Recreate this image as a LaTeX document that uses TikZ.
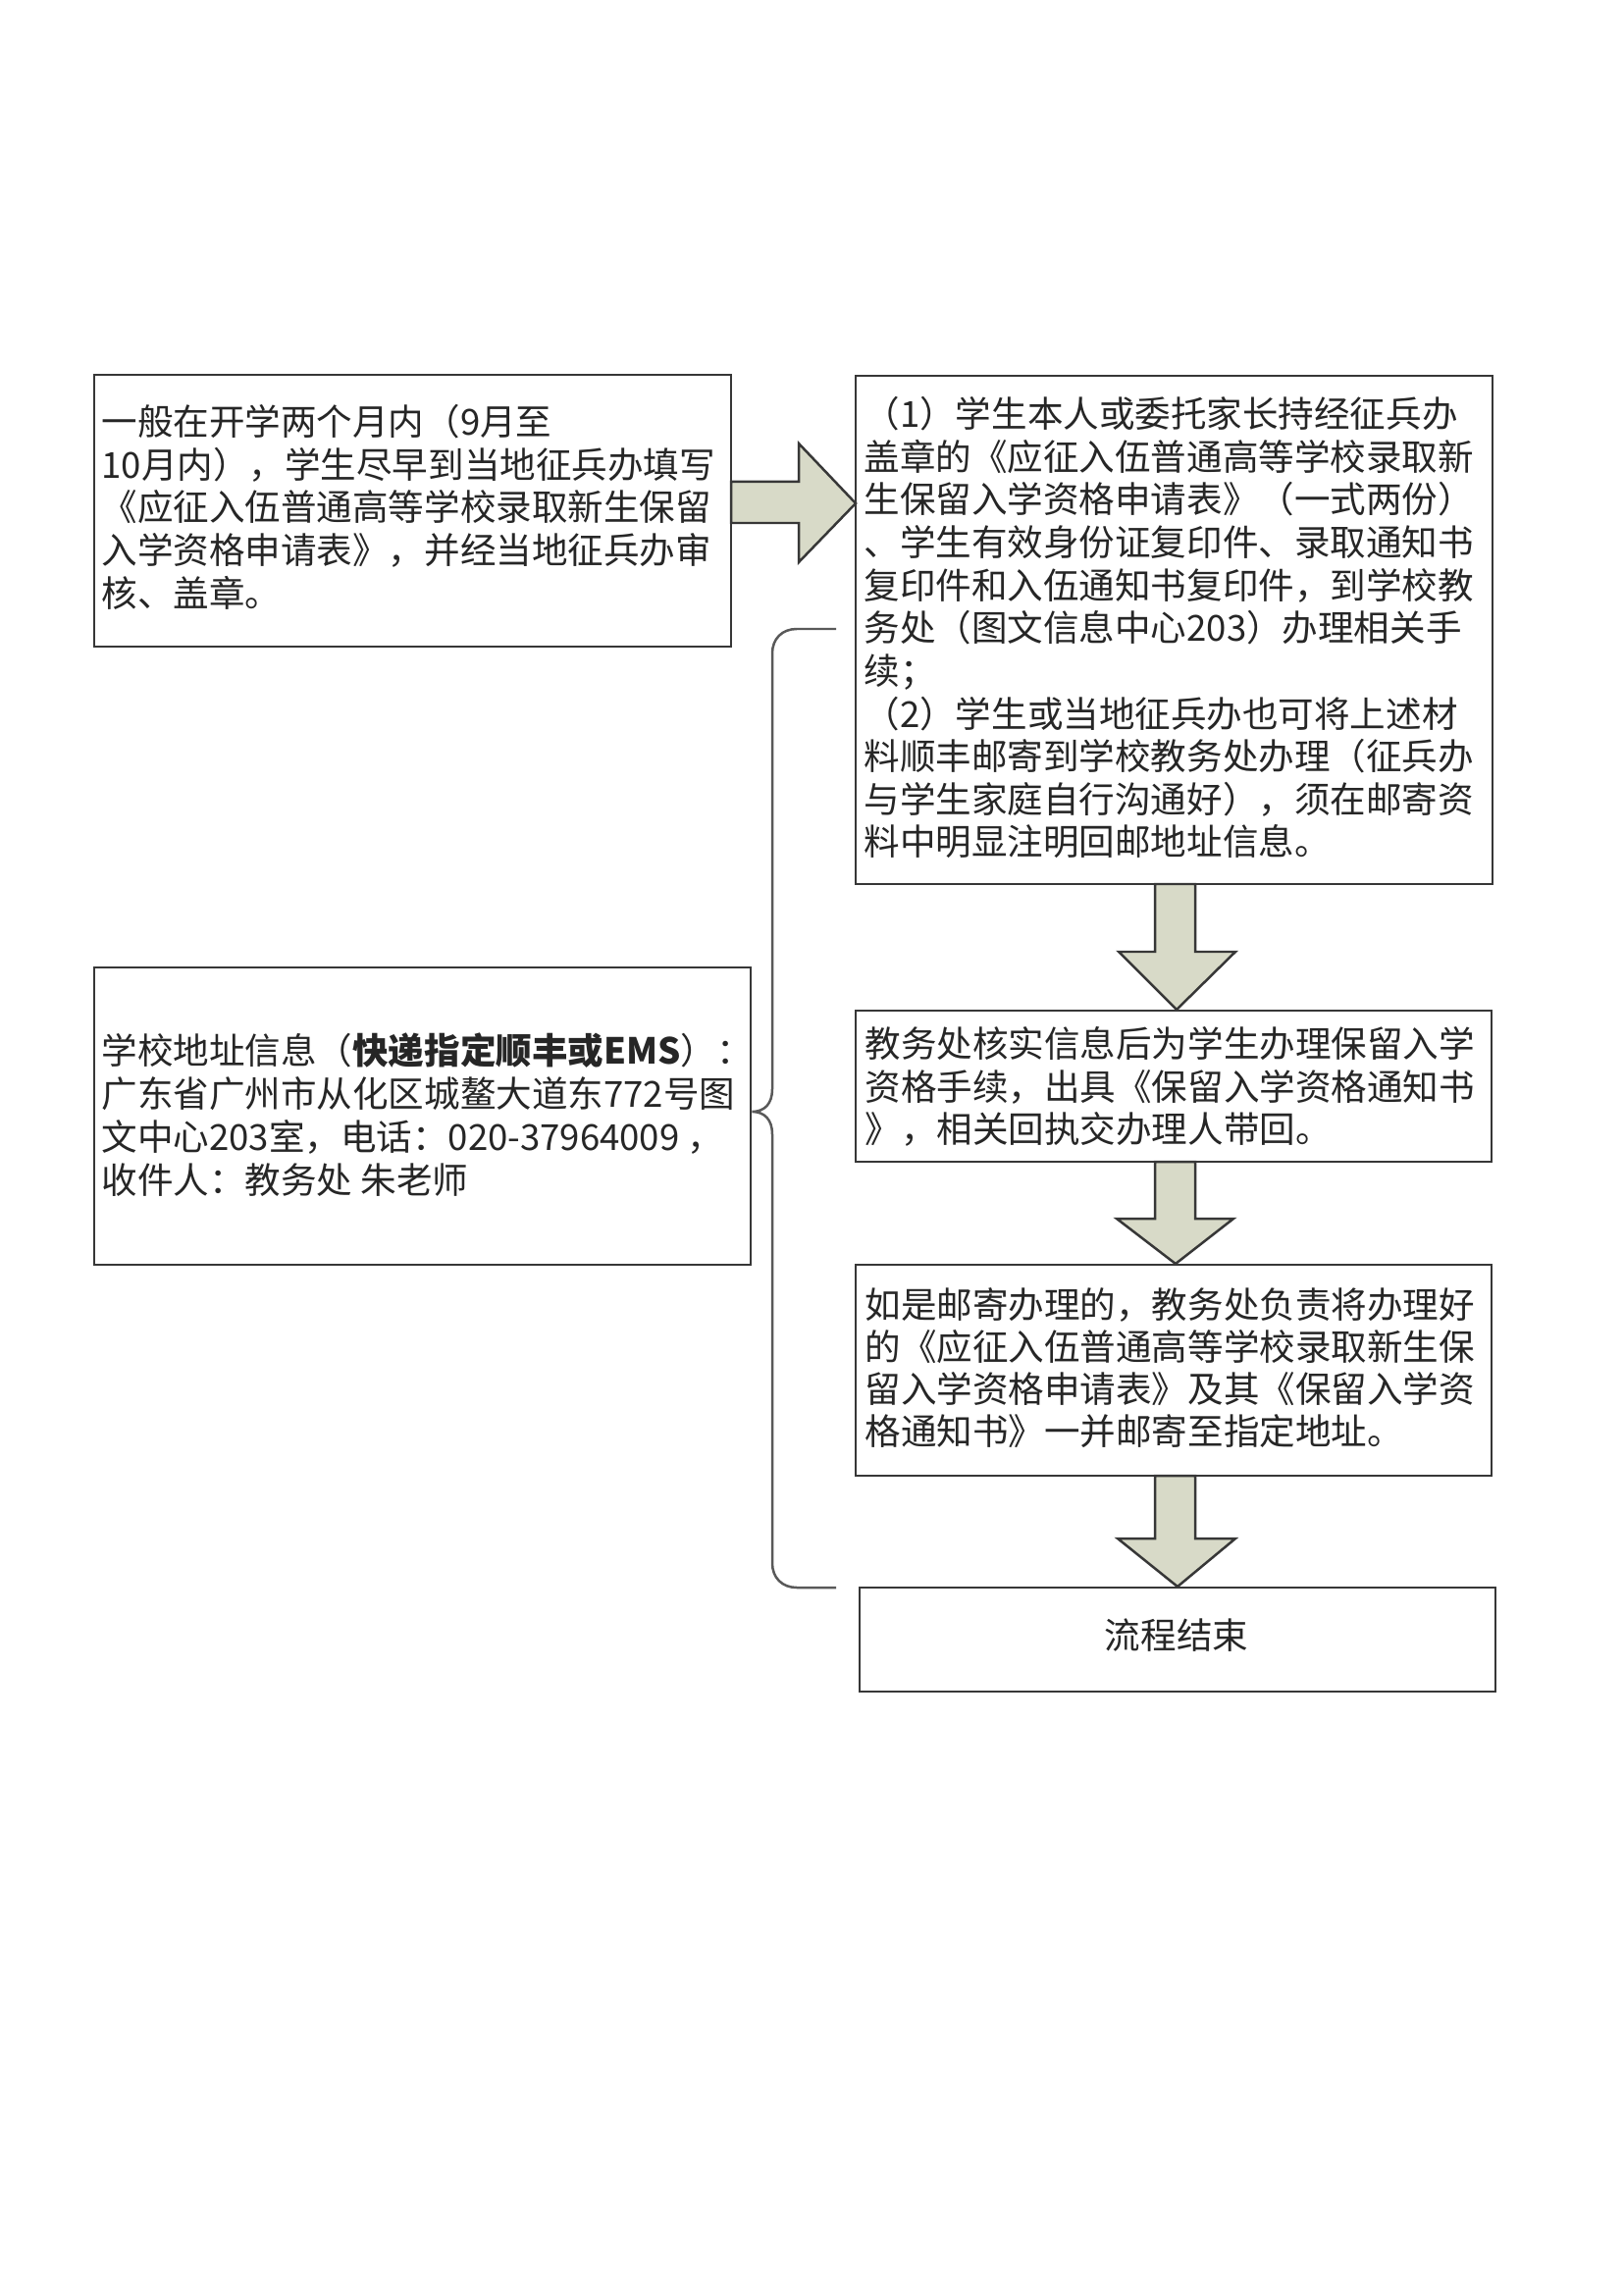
\documentclass[tikz,border=0pt]{standalone}
\usepackage{fontspec}
\setmainfont{Noto Sans CJK SC}
\usetikzlibrary{fit}
\definecolor{arrowfill}{RGB}{216,218,200}
\definecolor{edgecol}{RGB}{55,55,55}
\begin{document}
\begin{tikzpicture}[x=0.0126966cm,y=-0.0126966cm,
  box/.style={draw=edgecol,line width=1pt,inner sep=0pt},
  txt/.style={anchor=north west,inner sep=0pt,align=left,text=black!85,font=\fontsize{13.2pt}{15.75pt}\selectfont},
  blockarrow/.style={draw=edgecol,line width=0.9pt,fill=arrowfill,line join=miter},
  bracel/.style={draw=black!65,line width=0.9pt}]
\useasboundingbox[fill=white] (0,0) rectangle (1654,2339);

% boxes
\node[box,fit={(96,382)(745,659)}] (b1) {};
\node[box,fit={(872,383)(1521,901)}] (b2) {};
\node[box,fit={(872,1030)(1520,1184)}] (b3) {};
\node[box,fit={(872,1289)(1520,1504)}] (b4) {};
\node[box,fit={(876,1618)(1524,1724)}] (b5) {};
\node[box,fit={(96,986)(765,1289)}] (b6) {};

% texts
\node[txt] (t1) at (103,410) {\rule{0pt}{12pt}一般在开学两个月内（9月至\\
10月内），学生尽早到当地征兵办填写\\
《应征入伍普通高等学校录取新生保留\\
入学资格申请表》，并经当地征兵办审\\
核、盖章。};

\node[txt] (t2) at (880,402) {\rule{0pt}{12pt}（1）学生本人或委托家长持经征兵办\\
盖章的《应征入伍普通高等学校录取新\\
生保留入学资格申请表》（一式两份）\\
、学生有效身份证复印件、录取通知书\\
复印件和入伍通知书复印件，到学校教\\
务处（图文信息中心203）办理相关手\\
续；\\
（2）学生或当地征兵办也可将上述材\\
料顺丰邮寄到学校教务处办理（征兵办\\
与学生家庭自行沟通好），须在邮寄资\\
料中明显注明回邮地址信息。};

\node[txt] (t3) at (881,1044) {\rule{0pt}{12pt}教务处核实信息后为学生办理保留入学\\
资格手续，出具《保留入学资格通知书\\
》，相关回执交办理人带回。};

\node[txt,font=\fontsize{13.2pt}{15.45pt}\selectfont] (t4) at (881,1310) {\rule{0pt}{12pt}如是邮寄办理的，教务处负责将办理好\\
的《应征入伍普通高等学校录取新生保\\
留入学资格申请表》及其《保留入学资\\
格通知书》一并邮寄至指定地址。};

\node[txt,font=\fontsize{13.2pt}{15.9pt}\selectfont] (t6) at (103,1051) {\rule{0pt}{12pt}学校地址信息（\textbf{快递指定顺丰或EMS}）：\\
广东省广州市从化区城鳌大道东772号图\\
文中心203室，电话：020-37964009 ，\\
收件人：教务处 朱老师};

\node[inner sep=0pt,text=black!85,font=\fontsize{13.2pt}{15.75pt}\selectfont] (t5) at (1199,1667) {流程结束};

% block arrows
\draw[blockarrow] (745,491) -- (814,491) -- (814,452) -- (872,513) -- (814,573) -- (814,533) -- (745,533) -- cycle;
\draw[blockarrow] (1177,901) -- (1218,901) -- (1218,970) -- (1259,970) -- (1199,1029) -- (1140,970) -- (1177,970) -- cycle;
\draw[blockarrow] (1177,1184) -- (1218,1184) -- (1218,1242) -- (1257,1242) -- (1198,1288) -- (1138,1242) -- (1177,1242) -- cycle;
\draw[blockarrow] (1177,1504) -- (1218,1504) -- (1218,1568) -- (1259,1568) -- (1200,1617) -- (1139,1568) -- (1177,1568) -- cycle;

% brace
\coordinate (bt) at (852,641);
\coordinate (bb) at (852,1618);
\coordinate (btip) at (b6.east |- 0,1133);
\draw[bracel] (bt) -- (812,641) .. controls (797,641) and (787,651) .. (787,666)
  -- (787,1110) .. controls (787,1125) and (779,1133) .. (btip)
  .. controls (779,1133) and (787,1141) .. (787,1156)
  -- (787,1593) .. controls (787,1608) and (797,1618) .. (812,1618) -- (bb);
\end{tikzpicture}
\end{document}
